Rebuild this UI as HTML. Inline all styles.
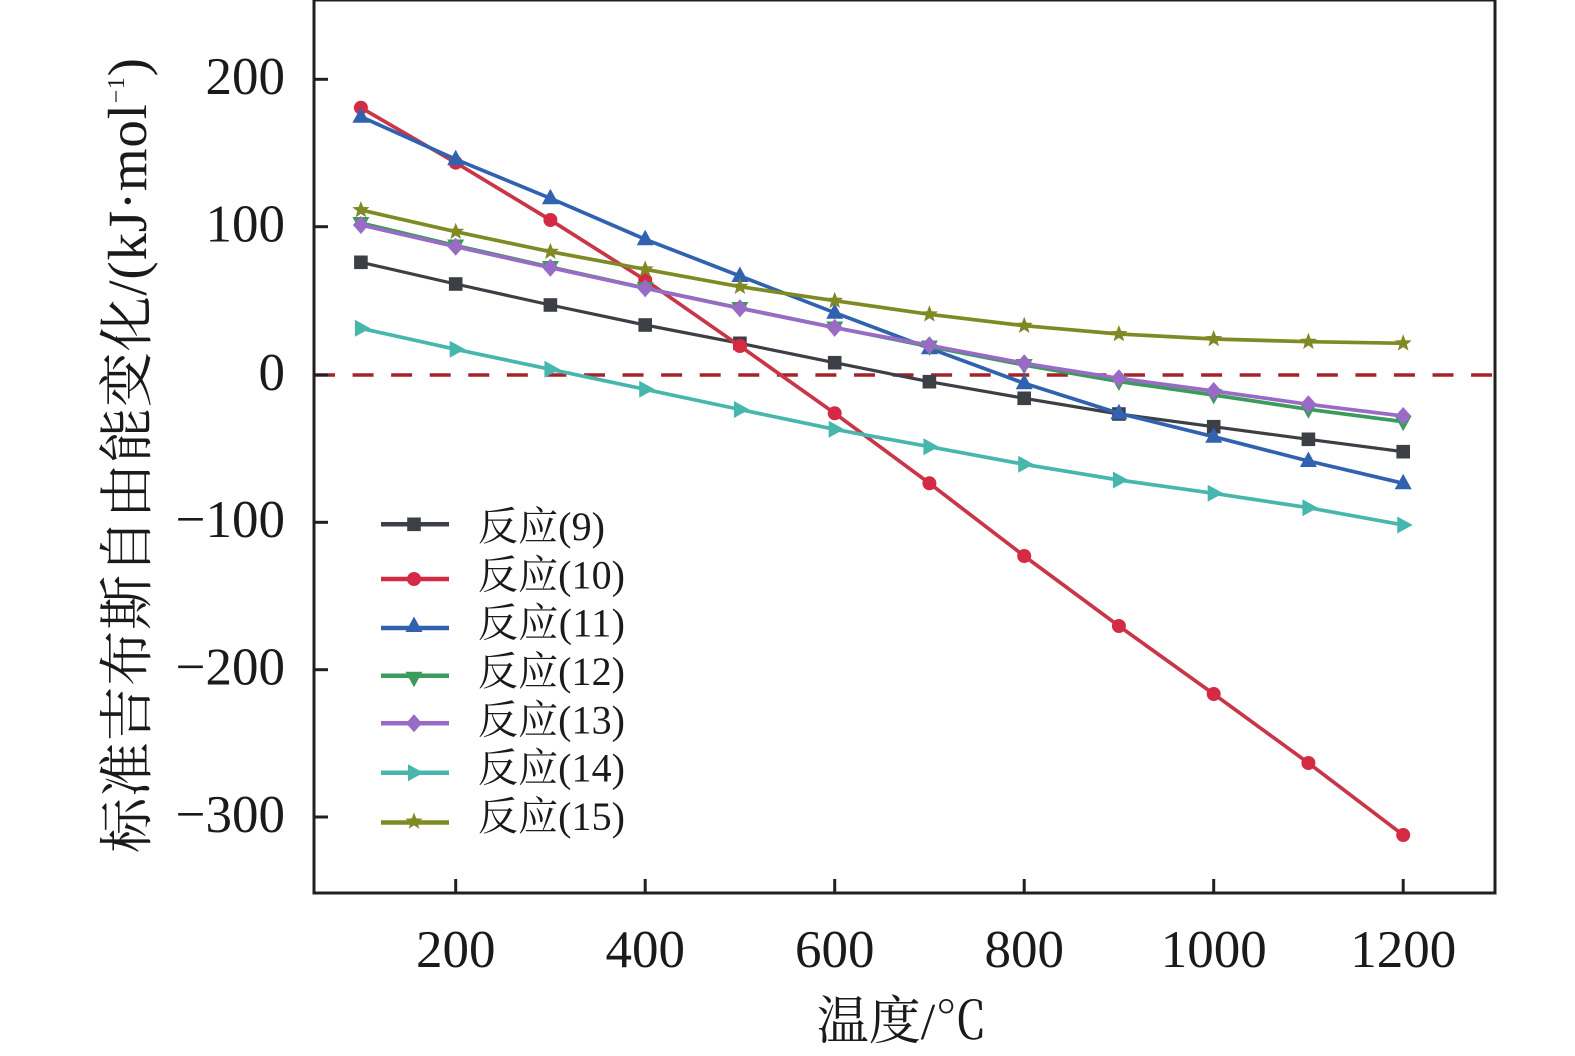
<!DOCTYPE html>
<html>
<head>
<meta charset="utf-8">
<style>
html,body{margin:0;padding:0;background:#fff;}
svg{display:block;}
.tk{font-family:"Liberation Serif","Noto Serif CJK SC",serif;font-size:53px;fill:#1a1a1a;}
.lg{font-family:"Liberation Serif","Noto Serif CJK SC",serif;font-size:40px;fill:#1a1a1a;}
.ti{font-family:"Liberation Serif","Noto Serif CJK SC",serif;fill:#1a1a1a;}
</style>
</head>
<body>
<svg width="1575" height="1056" viewBox="0 0 1575 1056" xmlns="http://www.w3.org/2000/svg">
<defs>
  <rect id="sq" x="-6.8" y="-6.8" width="13.6" height="13.6"/>
  <circle id="ci" cx="0" cy="0" r="7"/>
  <polygon id="tu" points="0,-9.5 8.5,6 -8.5,6"/>
  <polygon id="td" points="0,9.5 8.5,-6 -8.5,-6"/>
  <polygon id="di" points="0,-9 8,0 0,9 -8,0"/>
  <polygon id="tr" points="9.5,0 -6,-8.5 -6,8.5"/>
  <polygon id="st" points="0,-9 2.25,-3.1 8.56,-2.78 3.63,1.18 5.29,7.28 0,3.83 -5.29,7.28 -3.63,1.18 -8.56,-2.78 -2.25,-3.1"/>
</defs>
<rect x="0" y="0" width="1575" height="1056" fill="#fff"/>

<!-- zero dashed line -->
<line x1="314" y1="375" x2="1495" y2="375" stroke="#a3232b" stroke-width="3.6" stroke-dasharray="21 17.57"/>

<!-- Series 9 black -->
<g fill="#3c3f45">
<polyline fill="none" stroke="#3c3f45" stroke-width="3.2" points="360.9,262.3 455.7,284 550.4,305 645.2,325 739.9,343.3 834.7,362.7 929.4,381.7 1024.2,398.3 1118.9,414 1213.7,426.7 1308.4,439.3 1403.2,451.7"/>
<use href="#sq" x="360.9" y="262.3"/><use href="#sq" x="455.7" y="284"/><use href="#sq" x="550.4" y="305"/><use href="#sq" x="645.2" y="325"/><use href="#sq" x="739.9" y="343.3"/><use href="#sq" x="834.7" y="362.7"/><use href="#sq" x="929.4" y="381.7"/><use href="#sq" x="1024.2" y="398.3"/><use href="#sq" x="1118.9" y="414"/><use href="#sq" x="1213.7" y="426.7"/><use href="#sq" x="1308.4" y="439.3"/><use href="#sq" x="1403.2" y="451.7"/>
</g>

<!-- Series 10 red -->
<g fill="#d42a44">
<polyline fill="none" stroke="#c93648" stroke-width="3.7" points="360.9,107.7 455.7,162.7 550.4,220 645.2,280 739.9,346 834.7,413.3 929.4,483.3 1024.2,556 1118.9,626 1213.7,694 1308.4,763 1403.2,835"/>
<use href="#ci" x="360.9" y="107.7"/><use href="#ci" x="455.7" y="162.7"/><use href="#ci" x="550.4" y="220"/><use href="#ci" x="645.2" y="280"/><use href="#ci" x="739.9" y="346"/><use href="#ci" x="834.7" y="413.3"/><use href="#ci" x="929.4" y="483.3"/><use href="#ci" x="1024.2" y="556"/><use href="#ci" x="1118.9" y="626"/><use href="#ci" x="1213.7" y="694"/><use href="#ci" x="1308.4" y="763"/><use href="#ci" x="1403.2" y="835"/>
</g>

<!-- Series 11 blue -->
<g fill="#3162b0">
<polyline fill="none" stroke="#3162b0" stroke-width="3.7" points="360.9,116.7 455.7,159.3 550.4,198.3 645.2,239.3 739.9,276 834.7,312.7 929.4,348.3 1024.2,383.3 1118.9,413.3 1213.7,436.7 1308.4,461 1403.2,483.3"/>
<use href="#tu" x="360.9" y="116.7"/><use href="#tu" x="455.7" y="159.3"/><use href="#tu" x="550.4" y="198.3"/><use href="#tu" x="645.2" y="239.3"/><use href="#tu" x="739.9" y="276"/><use href="#tu" x="834.7" y="312.7"/><use href="#tu" x="929.4" y="348.3"/><use href="#tu" x="1024.2" y="383.3"/><use href="#tu" x="1118.9" y="413.3"/><use href="#tu" x="1213.7" y="436.7"/><use href="#tu" x="1308.4" y="461"/><use href="#tu" x="1403.2" y="483.3"/>
</g>

<!-- Series 12 green -->
<g fill="#3a9b5c">
<polyline fill="none" stroke="#3a9b5c" stroke-width="3.7" points="360.9,223 455.7,245.5 550.4,267 645.2,288 739.9,308 834.7,327.5 929.4,346.5 1024.2,365 1118.9,381.5 1213.7,395 1308.4,409.3 1403.2,421.7"/>
<use href="#td" x="360.9" y="223"/><use href="#td" x="455.7" y="245.5"/><use href="#td" x="550.4" y="267"/><use href="#td" x="645.2" y="288"/><use href="#td" x="739.9" y="308"/><use href="#td" x="834.7" y="327.5"/><use href="#td" x="929.4" y="346.5"/><use href="#td" x="1024.2" y="365"/><use href="#td" x="1118.9" y="381.5"/><use href="#td" x="1213.7" y="395"/><use href="#td" x="1308.4" y="409.3"/><use href="#td" x="1403.2" y="421.7"/>
</g>

<!-- Series 13 purple -->
<g fill="#9a6bc6">
<polyline fill="none" stroke="#9a6bc6" stroke-width="3.7" points="360.9,225 455.7,246.7 550.4,267.7 645.2,288.3 739.9,308.3 834.7,327.7 929.4,345.3 1024.2,363.3 1118.9,378.3 1213.7,391 1308.4,404.3 1403.2,416"/>
<use href="#di" x="360.9" y="225"/><use href="#di" x="455.7" y="246.7"/><use href="#di" x="550.4" y="267.7"/><use href="#di" x="645.2" y="288.3"/><use href="#di" x="739.9" y="308.3"/><use href="#di" x="834.7" y="327.7"/><use href="#di" x="929.4" y="345.3"/><use href="#di" x="1024.2" y="363.3"/><use href="#di" x="1118.9" y="378.3"/><use href="#di" x="1213.7" y="391"/><use href="#di" x="1308.4" y="404.3"/><use href="#di" x="1403.2" y="416"/>
</g>

<!-- Series 14 cyan -->
<g fill="#47b7ae">
<polyline fill="none" stroke="#47b7ae" stroke-width="3.7" points="360.9,328.3 455.7,349.3 550.4,369.3 645.2,389.3 739.9,409.5 834.7,429.3 929.4,446.7 1024.2,464.3 1118.9,480 1213.7,493.3 1308.4,507.7 1403.2,525"/>
<use href="#tr" x="360.9" y="328.3"/><use href="#tr" x="455.7" y="349.3"/><use href="#tr" x="550.4" y="369.3"/><use href="#tr" x="645.2" y="389.3"/><use href="#tr" x="739.9" y="409.5"/><use href="#tr" x="834.7" y="429.3"/><use href="#tr" x="929.4" y="446.7"/><use href="#tr" x="1024.2" y="464.3"/><use href="#tr" x="1118.9" y="480"/><use href="#tr" x="1213.7" y="493.3"/><use href="#tr" x="1308.4" y="507.7"/><use href="#tr" x="1403.2" y="525"/>
</g>

<!-- Series 15 olive -->
<g fill="#7f8a25">
<polyline fill="none" stroke="#7f8a25" stroke-width="3.7" points="360.9,210 455.7,231.7 550.4,251.7 645.2,269.3 739.9,286.7 834.7,300.7 929.4,314.3 1024.2,325.7 1118.9,334 1213.7,339 1308.4,341.7 1403.2,343.3"/>
<use href="#st" x="360.9" y="210"/><use href="#st" x="455.7" y="231.7"/><use href="#st" x="550.4" y="251.7"/><use href="#st" x="645.2" y="269.3"/><use href="#st" x="739.9" y="286.7"/><use href="#st" x="834.7" y="300.7"/><use href="#st" x="929.4" y="314.3"/><use href="#st" x="1024.2" y="325.7"/><use href="#st" x="1118.9" y="334"/><use href="#st" x="1213.7" y="339"/><use href="#st" x="1308.4" y="341.7"/><use href="#st" x="1403.2" y="343.3"/>
</g>

<!-- Frame -->
<rect x="314" y="0" width="1181" height="893" fill="none" stroke="#231f20" stroke-width="3"/>

<!-- Y ticks -->
<g stroke="#231f20" stroke-width="3">
<line x1="314" y1="79.3" x2="328" y2="79.3"/>
<line x1="314" y1="226.7" x2="328" y2="226.7"/>
<line x1="314" y1="375" x2="328" y2="375"/>
<line x1="314" y1="522.3" x2="328" y2="522.3"/>
<line x1="314" y1="669.7" x2="328" y2="669.7"/>
<line x1="314" y1="817" x2="328" y2="817"/>
<!-- X ticks -->
<line x1="455.7" y1="893" x2="455.7" y2="879"/>
<line x1="645.2" y1="893" x2="645.2" y2="879"/>
<line x1="834.7" y1="893" x2="834.7" y2="879"/>
<line x1="1024.2" y1="893" x2="1024.2" y2="879"/>
<line x1="1213.7" y1="893" x2="1213.7" y2="879"/>
<line x1="1403.2" y1="893" x2="1403.2" y2="879"/>
</g>

<!-- Y tick labels -->
<g class="tk" text-anchor="end">
<text x="285" y="94">200</text>
<text x="285" y="241.5">100</text>
<text x="285" y="390">0</text>
<text x="285" y="537">−100</text>
<text x="285" y="684.5">−200</text>
<text x="285" y="832">−300</text>
</g>
<!-- X tick labels -->
<g class="tk" text-anchor="middle">
<text x="455.7" y="967">200</text>
<text x="645.2" y="967">400</text>
<text x="834.7" y="967">600</text>
<text x="1024.2" y="967">800</text>
<text x="1213.7" y="967">1000</text>
<text x="1403.2" y="967">1200</text>
</g>

<!-- Axis titles -->
<text class="ti" x="902" y="1039" font-size="52" text-anchor="middle">温度/℃</text>
<text class="ti" transform="translate(146,853) rotate(-90)" x="0" y="0" font-size="55" textLength="795" lengthAdjust="spacing">标准吉布斯自由能变化/(kJ·mol<tspan font-size="24" dy="-22">−1</tspan><tspan dy="22">)</tspan></text>

<!-- Legend -->
<g stroke-width="4.5">
<line x1="381" y1="524.3" x2="449" y2="524.3" stroke="#3c3f45"/>
<line x1="381" y1="579" x2="449" y2="579" stroke="#d42a44"/>
<line x1="381" y1="628" x2="449" y2="628" stroke="#3162b0"/>
<line x1="381" y1="675.7" x2="449" y2="675.7" stroke="#3a9b5c"/>
<line x1="381" y1="723.3" x2="449" y2="723.3" stroke="#9a6bc6"/>
<line x1="381" y1="772.7" x2="449" y2="772.7" stroke="#47b7ae"/>
<line x1="381" y1="822.5" x2="449" y2="822.5" stroke="#7f8a25"/>
</g>
<use href="#sq" x="414" y="524.3" fill="#3c3f45"/>
<use href="#ci" x="414" y="579" fill="#d42a44"/>
<use href="#tu" x="414" y="626" fill="#3162b0"/>
<use href="#td" x="414" y="677.7" fill="#3a9b5c"/>
<use href="#di" x="414" y="723.3" fill="#9a6bc6"/>
<use href="#tr" x="414" y="772.7" fill="#47b7ae"/>
<use href="#st" x="414" y="821.5" fill="#7f8a25"/>

<g class="lg">
<text x="478" y="540" textLength="127" lengthAdjust="spacing">反应(9)</text>
<text x="478" y="588.3" textLength="147" lengthAdjust="spacing">反应(10)</text>
<text x="478" y="636.7" textLength="147" lengthAdjust="spacing">反应(11)</text>
<text x="478" y="685" textLength="147" lengthAdjust="spacing">反应(12)</text>
<text x="478" y="733.3" textLength="147" lengthAdjust="spacing">反应(13)</text>
<text x="478" y="781.7" textLength="147" lengthAdjust="spacing">反应(14)</text>
<text x="478" y="830" textLength="147" lengthAdjust="spacing">反应(15)</text>
</g>
</svg>
</body>
</html>
